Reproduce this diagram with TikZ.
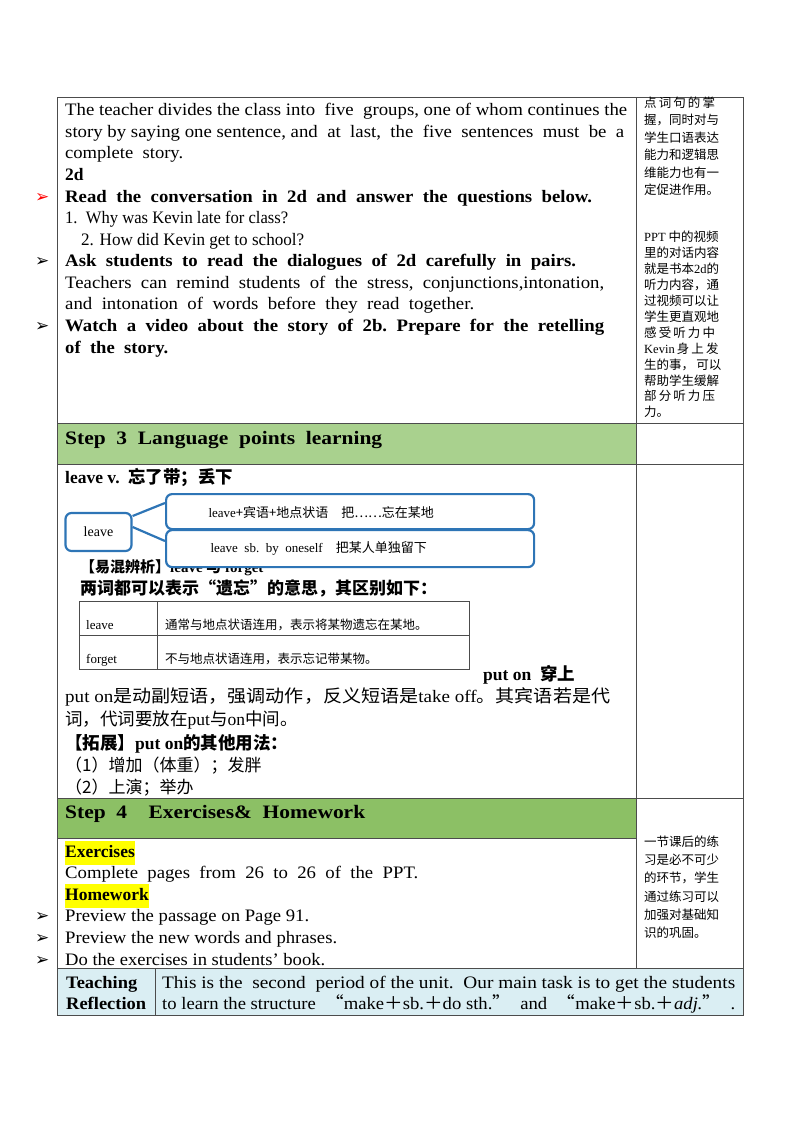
\documentclass[tikz,border=0pt]{standalone}
\usepackage{fontspec}
\usepackage{graphicx}
\setmainfont{Liberation Serif}
\newfontfamily\cjk{Noto Sans CJK SC}
\newfontfamily\sym{DejaVu Sans}
\newcommand\W[2]{\resizebox{#1pt}{\height}{#2}}
\definecolor{gA}{HTML}{A9D18E}
\definecolor{gB}{HTML}{8CC065}
\definecolor{bl}{HTML}{DAEEF3}
\definecolor{bx}{HTML}{2E75B6}
\definecolor{hl}{HTML}{FFFF00}
\begin{document}
\begin{tikzpicture}[x=1pt,y=-1pt,
  t/.style={anchor=base west,inner sep=0pt,font=\fontsize{17.5}{18}\selectfont},
  tb/.style={t,font=\fontsize{17.5}{18}\selectfont\bfseries},
  side/.style={anchor=base west,inner sep=0pt,font=\fontsize{12.5}{13}\selectfont\cjk},
  bul/.style={anchor=base west,inner sep=0pt,font=\fontsize{17}{15}\selectfont\sym},
  ln/.style={line width=0.6pt,draw=black!70},
  rbox/.style={draw=bx,line width=2.2pt,rounded corners=6pt}]
\useasboundingbox (0,0) rectangle (800,1132);
% fills
\fill[gA] (57,423) rectangle (636,464);
\fill[gB] (57,798) rectangle (636,838);
\fill[bl] (57,968) rectangle (743,1015);
% grid
\draw[ln] (57,97) -- (743,97);
\draw[ln] (57,97) -- (57,1015) -- (743,1015) -- (743,97);
\draw[ln] (636,97) -- (636,968);
\draw[ln] (57,423) -- (743,423);
\draw[ln] (57,464) -- (743,464);
\draw[ln] (57,798) -- (743,798);
\draw[ln] (57,838) -- (636,838);
\draw[ln] (57,968) -- (743,968);
\draw[ln] (155,968) -- (155,1015);
% top cell
\node[t] (l1) at (65,115) {\W{562}{The teacher divides the class into\ \ five\ \ groups, one of whom continues the}};
\node[t] (l2) at (65,137) {\W{559}{story by saying one sentence, and\ \ at\ \ last,\ \ the\ \ five\ \ sentences\ \ must\ \ be\ \ a}};
\node[t] (l3) at (65,158) {\W{118}{complete\ \ story.}};
\node[tb] (l4) at (65,180) {2d};
\node[bul,text=red] (b1) at (35,202) {➢};
\node[tb] (l5) at (65,202) {\W{527}{Read\ \ the\ \ conversation\ \ in\ \ 2d\ \ and\ \ answer\ \ the\ \ questions\ \ below.}};
\node[t] (l6) at (65,223) {\W{223}{1.\ \ Why was Kevin late for class?}};
\node[t] (l7) at (81,245) {\W{223}{2. How did Kevin get to school?}};
\node[bul] (b2) at (35,266) {➢};
\node[tb] (l8) at (65,266) {\W{511}{Ask\ \ students\ \ to\ \ read\ \ the\ \ dialogues\ \ of\ \ 2d\ \ carefully\ \ in\ \ pairs.}};
\node[t] (l9) at (65,288) {\W{539}{Teachers\ \ can\ \ remind\ \ students\ \ of\ \ the\ \ stress,\ \ conjunctions,intonation,}};
\node[t] (l10) at (65,309) {\W{409}{and\ \ intonation\ \ of\ \ words\ \ before\ \ they\ \ read\ \ together.}};
\node[bul] (b3) at (35,331) {➢};
\node[tb] (l11) at (65,331) {\W{539}{Watch\ \ a\ \ video\ \ about\ \ the\ \ story\ \ of\ \ 2b.\ \ Prepare\ \ for\ \ the\ \ retelling}};
\node[tb] (l12) at (65,353) {\W{103}{of\ \ the\ \ story.}};
% side top
\foreach \s [count=\i] in {点\,词\,句\,的\,掌,握，同时对与,学生口语表达,能力和逻辑思,维能力也有一,定促进作用。}
  \node[side] (sa\i) at (644,90+17.4*\i) {\s};
\foreach \s [count=\i] in {{\rmfamily PPT}\ 中的视频,里的对话内容,就是书本{\rmfamily 2d}的,听力内容，通,过视频可以让,学生更直观地,感\,受\,听\,力\,中,{\rmfamily Kevin}\,身\,上\,发,生的事，\,可以,帮助学生缓解,部\,分\,听\,力\,压,力。}
  \node[side] (sb\i) at (644,226+15.9*\i) {\s};
% step 3
\node[tb,font=\fontsize{19}{20}\selectfont\bfseries] (s3) at (65,444) {\W{317}{Step\ \ 3\ \ Language\ \ points\ \ learning}};
\node[tb] (lv) at (65,483) {leave v.\ \ {\cjk\bfseries 忘了带；丢下}};
\node[t,font=\fontsize{15}{16}\selectfont] (hid) at (80,572) {{\cjk\bfseries 【易混辨析】}\textbf{leave {\cjk 与} forget}};
\node[rbox,fill=white,minimum width=66pt,minimum height=38pt,font=\fontsize{14}{15}\selectfont] (lvb) at (98.5,532) {leave};
\node[rbox,fill=white,minimum width=368pt,minimum height=35pt,anchor=north west] (b1x) at (165,493) {};
\node[rbox,fill=white,minimum width=368pt,minimum height=37pt,anchor=north west] (b2x) at (165,529) {};
\node[anchor=west,font=\fontsize{13}{14}\selectfont] (b1t) at (205,513) {leave{\cjk +宾语+地点状语\quad 把……忘在某地}};
\node[anchor=west,font=\fontsize{13}{14}\selectfont] (b2t) at (207,548) {leave\ \ sb.\ \ by\ \ oneself\quad {\cjk 把某人单独留下}};
\draw[bx,line width=2.2pt] (lvb.east |- 0,516) -- (b1x.west |- 0,503);
\draw[bx,line width=2.2pt] (lvb.east |- 0,527) -- (b2x.west |- 0,541);
\node[t,font=\fontsize{17}{18}\selectfont\cjk\bfseries] (two) at (80,594) {两词都可以表示“遗忘”的意思，其区别如下：};
% small table
\draw[ln] (79,601) rectangle (469,669);
\draw[ln] (157,601) -- (157,669);
\draw[ln] (79,635) -- (469,635);
\node[t,font=\fontsize{13}{14}\selectfont] (c1) at (86,629) {leave};
\node[t,font=\fontsize{13}{14}\selectfont] (c2) at (86,663) {forget};
\node[t,font=\fontsize{12.5}{14}\selectfont\cjk] (c3) at (165,629) {通常与地点状语连用，表示将某物遗忘在某地。};
\node[t,font=\fontsize{12.5}{14}\selectfont\cjk] (c4) at (165,663) {不与地点状语连用，表示忘记带某物。};
\node[tb] (po) at (483,680) {put on\ \ {\cjk\bfseries 穿上}};
\node[t,font=\fontsize{17.5}{18}\selectfont] (p1) at (65,702) {\W{545}{put on{\cjk 是动副短语，强调动作，反义短语是}take off{\cjk 。其宾语若是代}}};
\node[t,font=\fontsize{17.5}{18}\selectfont] (p2) at (65,725) {{\cjk 词，代词要放在}put{\cjk 与}on{\cjk 中间。}};
\node[t,font=\fontsize{17.5}{18}\selectfont] (p3) at (65,749) {{\cjk\bfseries 【拓展】}\textbf{put on}{\cjk\bfseries 的其他用法：}};
\node[t,font=\fontsize{17}{18}\selectfont\cjk] (p4) at (65,771) {（1）增加（体重）；发胖};
\node[t,font=\fontsize{17}{18}\selectfont\cjk] (p5) at (65,793) {（2）上演；举办};
% step 4
\node[tb,font=\fontsize{19}{20}\selectfont\bfseries] (s4) at (65,818) {\W{300}{Step\ \ 4\ \ \ \ Exercises\&\ \ Homework}};
\node[tb] (ex) at (65,857) {\colorbox{hl}{\kern-3pt\strut Exercises\kern-3pt}};
\node[t] (cp) at (65,878) {\W{353}{Complete\ \ pages\ \ from\ \ 26\ \ to\ \ 26\ \ of\ \ the\ \ PPT.}};
\node[tb] (hw) at (65,900) {\colorbox{hl}{\kern-3pt\strut Homework\kern-3pt}};
\node[bul] (b4) at (35,921) {➢};
\node[t] (h1) at (65,921) {\W{244}{Preview the passage on Page 91.}};
\node[bul] (b5) at (35,943) {➢};
\node[t] (h2) at (65,943) {\W{272}{Preview the new words and phrases.}};
\node[bul] (b6) at (35,965) {➢};
\node[t] (h3) at (65,965) {\W{260}{Do the exercises in students’ book.}};
\foreach \s [count=\i] in {一节课后的练,习是必不可少,的环节，学生,通过练习可以,加强对基础知,识的巩固。}
  \node[side] (sc\i) at (644,828+18.3*\i) {\s};
% reflection
\node[tb] (tr1) at (66,988) {\W{71}{Teaching}};
\node[tb] (tr2) at (66,1009) {\W{80}{Reflection}};
\node[t] (r1) at (162,988) {\W{573}{This is the\ \ second\ \ period of the unit.\ \ Our main task is to get the students}};
\node[t] (r2) at (162,1009) {\W{573}{to learn the structure\ \ {\cjk “}make{\cjk ＋}sb.{\cjk ＋}do sth.{\cjk ”}\ \ and\ \ {\cjk “}make{\cjk ＋}sb.{\cjk ＋}\textit{adj.}{\cjk ”}\ \ .}};
\end{tikzpicture}
\end{document}
